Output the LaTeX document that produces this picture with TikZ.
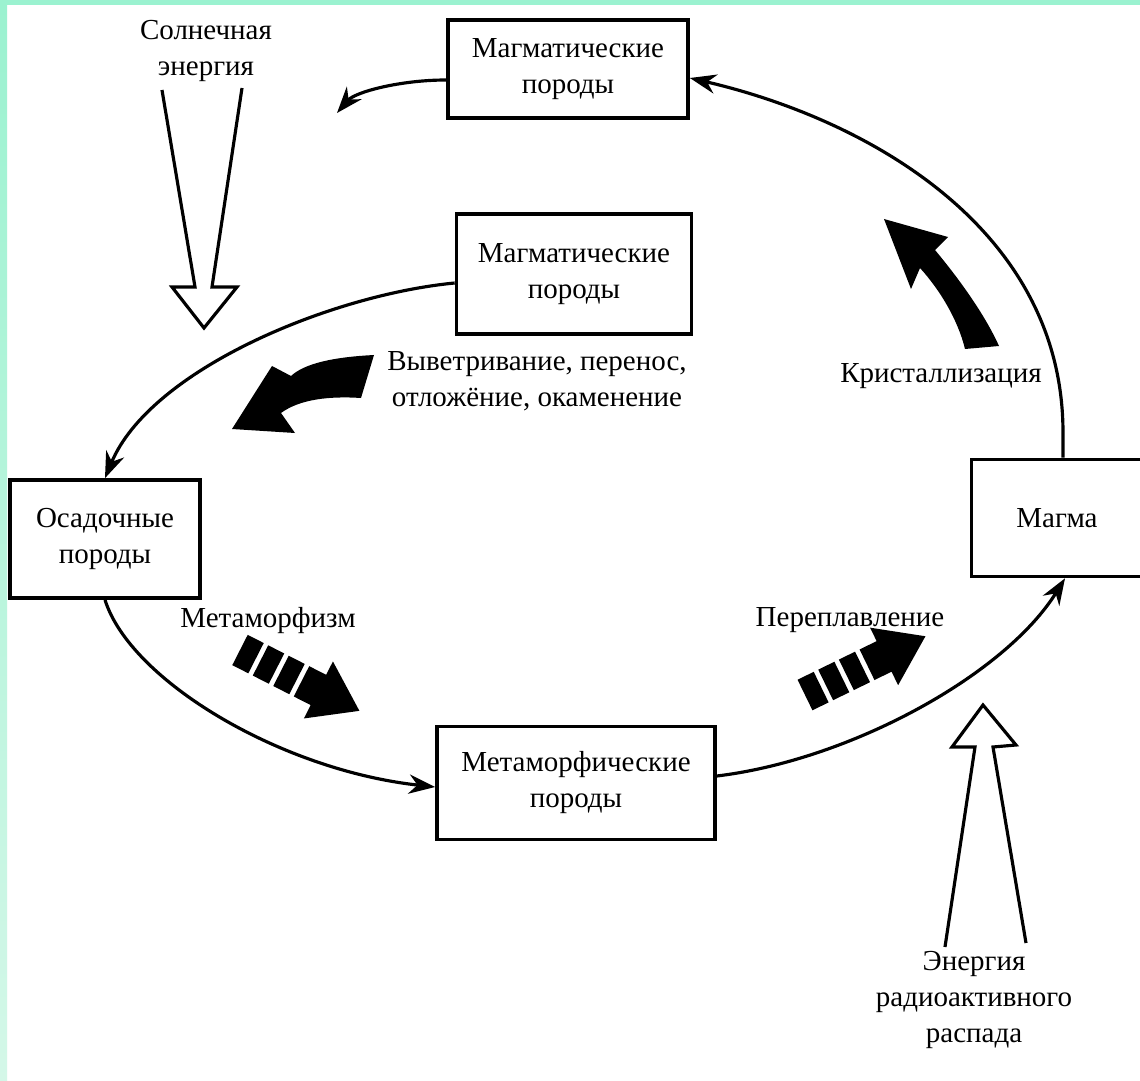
\documentclass[tikz,border=0pt]{standalone}
\usepackage{fontspec}
\setmainfont{Liberation Serif}
\usepackage{tikz}
\usetikzlibrary{arrows.meta}
\definecolor{mint}{RGB}{155,242,208}
\definecolor{mintpale}{RGB}{212,247,232}
\newcommand{\cyclefont}{\fontsize{16.5}{20.5}\selectfont}
\tikzset{
  rockbox/.style={draw, line width=2.1pt, align=center, font=\cyclefont, inner sep=0pt},
  flow/.style={line width=1.8pt, -{Stealth[length=15pt,width=11pt]}},
  energy/.style={line width=1.8pt, line join=miter},
  note/.style={align=center, font=\cyclefont, inner sep=0pt},
}

\begin{document}
\begin{tikzpicture}[x=0.02cm, y=-0.02cm]
        \useasboundingbox (0,0) rectangle (1140,1081);
        \clip (0,0) rectangle (1140,1081);
        \fill[white] (0,0) rectangle (1140,1081);
        \fill[mint] (0,0) rectangle (1140,5);
        \shade[top color=mint, bottom color=mintpale] (0,5) rectangle (7,1081);

        % rocks
        \node[rockbox, minimum width=4.8cm, minimum height=1.96cm] (topig) at (568,69) {Магматические\\породы};
        \node[rockbox, minimum width=4.7cm, minimum height=2.4cm] (midig) at (574,274) {Магматические\\породы};
        \node[rockbox, minimum width=3.8cm, minimum height=2.36cm] (sed) at (105,539) {Осадочные\\породы};
        \node[rockbox, minimum width=5.56cm, minimum height=2.26cm] (meta) at (576,783) {Метаморфические\\породы};
        \node[rockbox, minimum width=3.42cm, minimum height=2.34cm] (magma) at (1057,518) {Магма};

        % process labels
        \node[note] (sun) at (206,51) {Солнечная\\энергия};
        \node[note] (weather) at (537,381) {Выветривание, перенос,\\отложёние, окаменение};
        \node[note] (cryst) at (941,376) {Кристаллизация};
        \node[note] (metam) at (268,621) {Метаморфизм};
        \node[note] (remelt) at (850,620) {Переплавление};
        \node[note] (decay) at (974,1000) {Энергия\\радиоактивного\\распада};
        \coordinate (weatherend) at (337,113);

        % cycle
        \draw[flow] ([xshift=0.12cm]magma.north) -- ++(0,-25) .. controls (1063,230) and (870,120) .. ([yshift=-0.18cm]topig.east);
        \draw[flow] ([yshift=-0.22cm]topig.west) .. controls (400,80) and (355,92) .. (weatherend);
        \draw[flow] ([yshift=-0.18cm]midig.west) .. controls (330,295) and (150,370) .. (sed.north);
        \draw[flow] (sed.south) .. controls (130,680) and (280,770) .. ([yshift=-0.08cm]meta.west);
        \draw[flow] ([yshift=0.14cm]meta.east) .. controls (850,760) and (1005,675) .. ([xshift=0.16cm]magma.south);

        % energy inputs
        \draw[energy] (162,90) -- (195,287) -- (172,287) -- (204,328) -- (237,287) -- (212,287) -- (242,88);
        \draw[energy] (945,947) -- (975,747) -- (952,747) -- (983,705) -- (1016,745) -- (993,747) -- (1026,943);

        % bold process arrows
        \fill (374,355) .. controls (335,357) and (305,363) .. (291,376) -- (272,366) -- (232,429) -- (295,433) -- (281,413) .. controls (300,399) and (330,396) .. (361,398) -- cycle;
        \fill (965,349) .. controls (958,320) and (940,290) .. (920,268) -- (911,289) -- (884,219) -- (948,237) -- (935,250) .. controls (960,280) and (985,315) .. (999,346) -- cycle;
        \foreach \ax/\ay/\ang in {240/650/-27, 805/695/26} {
            \begin{scope}[shift={(\ax,\ay)}, rotate=\ang]
                \foreach \s in {0,23,46}
                    \fill (\s,-17) rectangle ++(18,34);
                \fill (69,-17) -- (88,-17) -- (88,-32) -- (134,0) -- (88,32) -- (88,17) -- (69,17) -- cycle;
            \end{scope}
        }
\end{tikzpicture}
\end{document}
